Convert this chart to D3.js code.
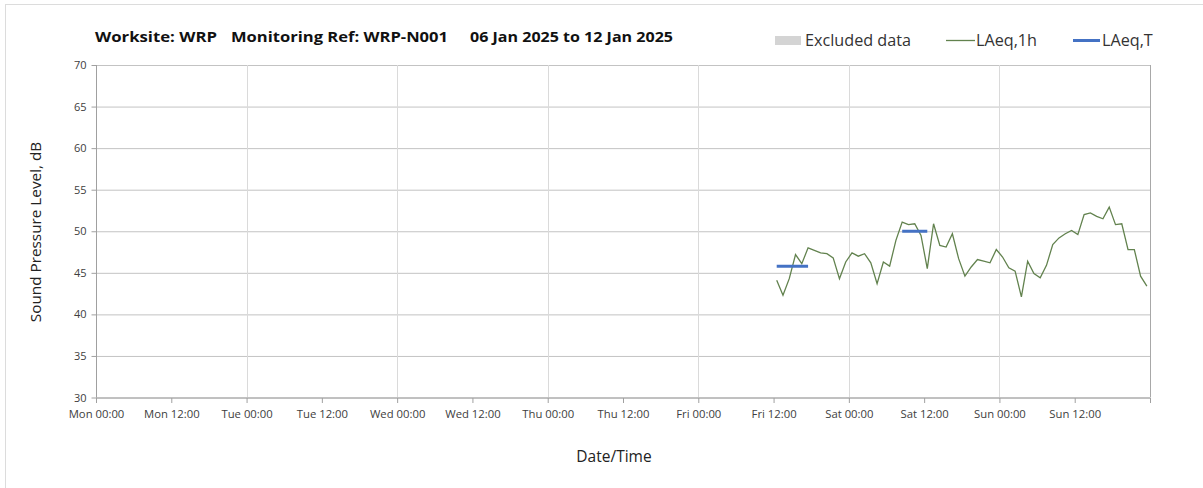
<!DOCTYPE html>
<html>
<head>
<meta charset="utf-8">
<script src="https://cdn.jsdelivr.net/npm/d3@7"></script>
<style>
    body { margin: 0; background: #fff; }
    text { font-family: "Open Sans", "DejaVu Sans", sans-serif; }
</style>
</head>
<body>
<script>
// hourly LAeq,1h readings, first one at Fri 10 Jan 12:30
const firstReading = new Date(2025, 0, 10, 12, 30);
const laeq1h = [
    44.1, 42.3, 44.3, 47.2, 46.1, 48.0, 47.7, 47.4, 47.3, 46.8,
    44.3, 46.3, 47.4, 47.0, 47.3, 46.2, 43.7, 46.3, 45.8, 48.9,
    51.1, 50.8, 50.9, 49.5, 45.5, 50.9, 48.3, 48.1, 49.7, 46.7,
    44.6, 45.7, 46.6, 46.4, 46.2, 47.8, 46.9, 45.6, 45.2, 42.1,
    46.4, 44.9, 44.4, 45.9, 48.4, 49.2, 49.7, 50.1, 49.6, 52.0,
    52.2, 51.8, 51.5, 52.9, 50.8, 50.9, 47.8, 47.8, 44.6, 43.4
];

// LAeq,T periods
const periodStart = [new Date(2025, 0, 10, 12, 30), new Date(2025, 0, 11, 8, 30)];
const periodEnd = [new Date(2025, 0, 10, 17, 30), new Date(2025, 0, 11, 12, 30)];
const laeqT = [45.8, 50.0];

const yTicks = [30, 35, 40, 45, 50, 55, 60, 65, 70];
const legendNames = ["Excluded data", "LAeq,1h", "LAeq,T"];

const W = 1203, H = 488;
const svg = d3.select("body").append("svg").attr("width", W).attr("height", H);

// frame of the page around the chart
svg.append("rect")
    .attr("x", 5.5).attr("y", 4.5)
    .attr("width", 1400).attr("height", 700)
    .attr("fill", "none").attr("stroke", "#dcdcdc");

const x = d3.scaleTime()
    .domain([new Date(2025, 0, 6), new Date(2025, 0, 13)])
    .range([96, 1150]);
const y = d3.scaleLinear().domain([30, 70]).range([397.5, 65]);

const points = laeq1h.map((v, i) => ({ t: d3.timeHour.offset(firstReading, i), v: v }));

//grid
const g = svg.append("g");
g.selectAll(".hgrid")
    .data(yTicks)
    .enter()
    .append("line")
    .attr("x1", x.range()[0]).attr("x2", x.range()[1])
    .attr("y1", d => y(d) + 0.5).attr("y2", d => y(d) + 0.5)
    .attr("stroke", "#c3c3c3");

const days = d3.timeDay.range(x.domain()[0], d3.timeHour.offset(x.domain()[1], 1));
g.selectAll(".vgrid")
    .data(days.slice(1))
    .enter()
    .append("line")
    .attr("x1", d => Math.round(x(d)) + 0.5).attr("x2", d => Math.round(x(d)) + 0.5)
    .attr("y1", y(70)).attr("y2", y(30))
    .attr("stroke", (d, i) => i === days.length - 2 ? "#a8a8a8" : "#dadada");

//axes
const fmt = d3.timeFormat("%a %H:%M");
const xTicks = d3.timeHour.every(12).range(x.domain()[0], d3.timeHour.offset(x.domain()[1], 1));
const xAxis = d3.axisBottom(x)
    .tickValues(xTicks)
    .tickSize(5)
    .tickFormat(d => d < x.domain()[1] ? fmt(d) : "");
const ax = svg.append("g")
    .attr("transform", "translate(0," + (y(30) + 0.5) + ")")
    .call(xAxis);
ax.select(".domain").attr("stroke", "#a0a0a0").attr("d", "M" + x.range()[0] + ",0H" + x.range()[1]);
ax.selectAll(".tick line").attr("stroke", "#a0a0a0");
ax.selectAll(".tick text")
    .attr("y", 12)
    .attr("fill", "#404040")
    .style("font-size", "11.3px");

const yAxis = d3.axisLeft(y).tickValues(yTicks).tickSize(5);
const ay = svg.append("g")
    .attr("transform", "translate(" + (x.range()[0] + 0.5) + ",0)")
    .call(yAxis);
ay.select(".domain").attr("stroke", "#a0a0a0").attr("d", "M0," + y(70) + "V" + y(30));
ay.selectAll(".tick line").attr("stroke", "#a0a0a0");
ay.selectAll(".tick text")
    .attr("x", -10)
    .attr("fill", "#404040")
    .style("font-size", "11px");

//data line
const line = d3.line().x(d => x(d.t)).y(d => y(d.v));
svg.append("path")
    .datum(points)
    .attr("fill", "none")
    .attr("stroke", "#62824e")
    .attr("stroke-width", 1.3)
    .attr("d", line);

svg.selectAll(".laeqT")
    .data(laeqT)
    .enter()
    .append("line")
    .attr("x1", (d, i) => x(periodStart[i])).attr("x2", (d, i) => x(periodEnd[i]))
    .attr("y1", d => y(d)).attr("y2", d => y(d))
    .attr("stroke", "#4472c4")
    .attr("stroke-width", 3);

//titles
const title = svg.append("text")
    .attr("y", 42)
    .attr("fill", "#111")
    .style("font-size", "15px")
    .style("font-weight", "bold");
title.append("tspan").attr("x", 95).attr("textLength", 122).attr("lengthAdjust", "spacingAndGlyphs").text("Worksite: WRP");
title.append("tspan").attr("x", 231).attr("textLength", 217).attr("lengthAdjust", "spacingAndGlyphs").text("Monitoring Ref: WRP-N001");
title.append("tspan").attr("x", 470).attr("textLength", 203).attr("lengthAdjust", "spacingAndGlyphs").text("06 Jan 2025 to 12 Jan 2025");

svg.append("text")
    .attr("transform", "translate(41,232) rotate(-90)")
    .attr("text-anchor", "middle")
    .attr("fill", "#222")
    .style("font-size", "15.3px")
    .text("Sound Pressure Level, dB");

svg.append("text")
    .attr("x", 614).attr("y", 462)
    .attr("text-anchor", "middle")
    .attr("fill", "#222")
    .style("font-size", "15.5px")
    .text("Date/Time");

//legend
const legend = svg.append("g").attr("transform", "translate(0,40)");
legend.append("rect").attr("x", 775).attr("y", -4).attr("width", 26).attr("height", 9).attr("fill", "#d4d4d4");
legend.append("line").attr("x1", 946).attr("x2", 975).attr("y1", 0.5).attr("y2", 0.5).attr("stroke", "#62824e").attr("stroke-width", 1.3);
legend.append("line").attr("x1", 1073).attr("x2", 1100).attr("y1", 0.5).attr("y2", 0.5).attr("stroke", "#4472c4").attr("stroke-width", 3);
const legendX = [805, 976, 1102];
legend.selectAll(".lt")
    .data(legendNames)
    .enter()
    .append("text")
    .attr("x", (d, i) => legendX[i])
    .attr("y", 6)
    .attr("fill", "#333")
    .style("font-size", "16.2px")
    .text(d => d);
</script>
</body>
</html>
